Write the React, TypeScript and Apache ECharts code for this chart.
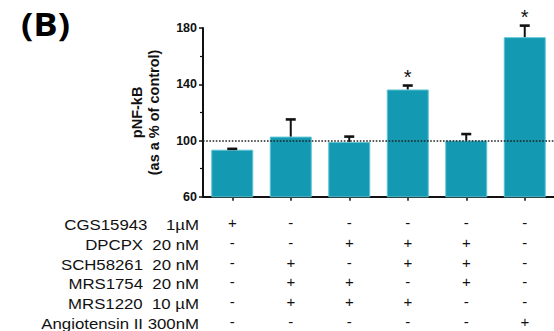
import React, { useEffect, useRef } from "react";
import * as echarts from "echarts";

const categories = ["G1", "G2", "G3", "G4", "G5", "G6"];
const means = [93.5, 102.8, 99, 136.3, 100, 173.5];
const errors = [0.6, 12.2, 3.8, 2.8, 4.6, 8.2];
const significant = [false, false, false, true, false, true];
const yMin = 60;
const yMax = 180;
const yInterval = 40;
const treatments = [
  "CGS15943\u00A0\u00A0\u00A0\u00A01µM",
  "DPCPX\u00A0 20 nM",
  "SCH58261\u00A0 20 nM",
  "MRS1754\u00A0 20 nM",
  "MRS1220\u00A0 10 µM",
  "Angiotensin II 300nM",
];
const signs = [
  ["+", "-", "-", "-", "-", "-"],
  ["-", "-", "+", "+", "+", "-"],
  ["-", "+", "-", "+", "+", "-"],
  ["-", "+", "+", "-", "+", "-"],
  ["-", "+", "+", "+", "-", "-"],
  ["-", "-", "-", "-", "-", "+"],
];
const panelLabel = "(B)";
const yName = "pNF-kB\n(as a % of control)";

const FONT = "'Liberation Sans'";

export default function App() {
  const ref = useRef<HTMLDivElement>(null);
  useEffect(() => {
    if (!ref.current) return;
    const chart = echarts.init(ref.current, null, { renderer: "svg" });
    const errData = means.map((m, i) => [i, m, errors[i], significant[i] ? 1 : 0]);
    const rowY0 = 225;
    const rowStep = 19.75;
    chart.setOption({
      animation: false,
      backgroundColor: "#ffffff",
      grid: { left: 203, top: 28, width: 355, bottom: 131, containLabel: false },
      xAxis: {
        type: "category",
        data: categories,
        boundaryGap: true,
        axisLine: { show: true, lineStyle: { color: "#111", width: 2 } },
        axisTick: { show: true, alignWithLabel: true, length: 4, lineStyle: { color: "#111", width: 1.5 } },
        axisLabel: {
          show: true,
          interval: 0,
          margin: 16,
          color: "#111",
          fontFamily: "Liberation Sans",
          fontSize: 15,
          lineHeight: 19.7,
          formatter: (_v: string, idx: number) => signs.map((r) => r[idx]).join("\n"),
        },
        splitLine: { show: false },
      },
      yAxis: {
        type: "value",
        min: yMin,
        max: yMax,
        interval: yInterval,
        name: yName,
        nameLocation: "middle",
        nameGap: 41,
        nameRotate: 90,
        nameTextStyle: { color: "#111", fontFamily: "Liberation Sans", fontWeight: "bold", fontSize: 14.5, lineHeight: 17 },
        axisLine: { show: true, lineStyle: { color: "#111", width: 2 } },
        axisTick: { show: true, length: 4, lineStyle: { color: "#111", width: 1.5 } },
        minorTick: { show: true, splitNumber: 2, length: 3, lineStyle: { color: "#111", width: 1.2 } },
        axisLabel: { color: "#111", fontFamily: "Liberation Sans", fontWeight: "bold", fontSize: 12.5, margin: 6 },
        splitLine: { show: false },
      },
      series: [
        {
          type: "bar",
          data: means,
          barWidth: 42,
          itemStyle: { color: "#1399b2", borderColor: "#62c4d4", borderWidth: 1 },
          markLine: {
            silent: true,
            symbol: ["none", "none"],
            label: { show: false },
            lineStyle: { color: "#222", type: [1.6, 1.6], width: 1.6 },
            data: [{ yAxis: 100 }],
          },
          z: 2,
        },
        {
          type: "custom",
          data: errData,
          z: 5,
          renderItem: (_params: any, api: any) => {
            const idx = api.value(0);
            const m = api.value(1);
            const e = api.value(2);
            const star = api.value(3);
            const p0 = api.coord([idx, m]);
            const p1 = api.coord([idx, m + e]);
            const children: any[] = [
              {
                type: "line",
                shape: { x1: p0[0], y1: p0[1], x2: p1[0], y2: p1[1] },
                style: { stroke: "#111", lineWidth: 2 },
              },
              {
                type: "line",
                shape: { x1: p1[0] - 5, y1: p1[1], x2: p1[0] + 5, y2: p1[1] },
                style: { stroke: "#111", lineWidth: 2.6 },
              },
            ];
            if (star) {
              children.push({
                type: "text",
                style: {
                  x: p1[0],
                  y: p1[1] - 8.5,
                  text: "*",
                  fill: "#111",
                  font: `20px ${FONT}`,
                  align: "center",
                  verticalAlign: "middle",
                },
              });
            }
            return { type: "group", children };
          },
        },
      ],
      graphic: [
        {
          type: "text",
          x: 21,
          y: 7,
          scaleX: 1.1,
          style: {
            text: panelLabel,
            fill: "#000",
            font: "bold 33px 'Open Sans'",
            align: "left",
            verticalAlign: "top",
          },
        },
        ...treatments.map((t, i) => ({
          type: "text",
          x: 199,
          y: rowY0 + i * rowStep,
          scaleX: 1.12,
          style: {
            text: t,
            fill: "#111",
            font: `15px ${FONT}`,
            align: "right",
            verticalAlign: "middle",
          },
        })),
      ],
    });
    return () => chart.dispose();
  }, []);
  return (
    <div
      ref={ref}
      style={{ position: "fixed", left: 0, top: 0, width: 554, height: 331, background: "#fff" }}
    />
  );
}
